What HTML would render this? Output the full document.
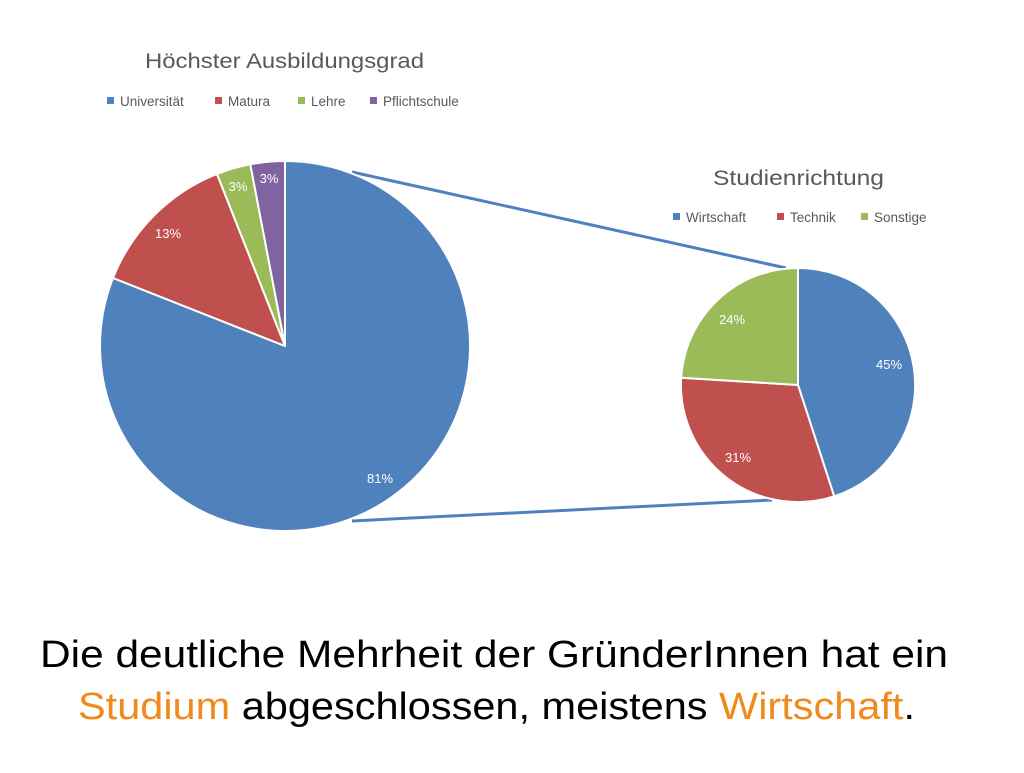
<!DOCTYPE html>
<html><head><meta charset="utf-8"><style>
html,body{margin:0;padding:0;background:#fff;}
body{width:1024px;height:768px;overflow:hidden;}
</style></head><body>
<svg width="1024" height="768" viewBox="0 0 1024 768" xmlns="http://www.w3.org/2000/svg" font-family="Liberation Sans, DejaVu Sans, sans-serif">
<rect width="1024" height="768" fill="#fff"/>
<text x="145" y="68" font-size="21" fill="#595959" textLength="279" lengthAdjust="spacingAndGlyphs">Höchster Ausbildungsgrad</text>
<g font-size="13.5" fill="#595959">
<rect x="107" y="97" width="7" height="7" fill="#4F81BD"/><text x="120" y="106">Universität</text>
<rect x="215" y="97" width="7" height="7" fill="#C0504D"/><text x="228" y="106">Matura</text>
<rect x="298" y="97" width="7" height="7" fill="#9BBB59"/><text x="311" y="106">Lehre</text>
<rect x="370" y="97" width="7" height="7" fill="#8064A2"/><text x="383" y="106">Pflichtschule</text>
</g>
<text x="713" y="185" font-size="21" fill="#595959" textLength="171" lengthAdjust="spacingAndGlyphs">Studienrichtung</text>
<g font-size="13.5" fill="#595959">
<rect x="673" y="213" width="7" height="7" fill="#4F81BD"/><text x="686" y="222">Wirtschaft</text>
<rect x="777" y="213" width="7" height="7" fill="#C0504D"/><text x="790" y="222">Technik</text>
<rect x="861" y="213" width="7" height="7" fill="#9BBB59"/><text x="874" y="222">Sonstige</text>
</g>
<line x1="352" y1="172" x2="786" y2="268" stroke="#4F81BD" stroke-width="3"/>
<line x1="352" y1="521" x2="772" y2="500" stroke="#4F81BD" stroke-width="3"/>
<g stroke="#fff" stroke-width="2" stroke-linejoin="round">
<path d="M285,346 L285,161 A185,185 0 1 1 113,278 Z" fill="#4F81BD"/>
<path d="M285,346 L113,278 A185,185 0 0 1 217,174 Z" fill="#C0504D"/>
<path d="M285,346 L217,174 A185,185 0 0 1 250.3,164.3 Z" fill="#9BBB59"/>
<path d="M285,346 L250.3,164.3 A185,185 0 0 1 285,161 Z" fill="#8064A2"/>
<path d="M798,385 L798,268 A117,117 0 0 1 834.2,496.3 Z" fill="#4F81BD"/>
<path d="M798,385 L834.2,496.3 A117,117 0 0 1 681.2,377.7 Z" fill="#C0504D"/>
<path d="M798,385 L681.2,377.7 A117,117 0 0 1 798,268 Z" fill="#9BBB59"/>
</g>
<g font-size="13" fill="#fff" text-anchor="middle">
<text x="380" y="483">81%</text>
<text x="168" y="238">13%</text>
<text x="238" y="191">3%</text>
<text x="269" y="183">3%</text>
<text x="889" y="369">45%</text>
<text x="738" y="462">31%</text>
<text x="732" y="324">24%</text>
</g>
<g font-size="38" fill="#000">
<text x="40" y="667" textLength="908" lengthAdjust="spacingAndGlyphs">Die deutliche Mehrheit der GründerInnen hat ein</text>
<text x="78" y="719" textLength="837" lengthAdjust="spacingAndGlyphs"><tspan fill="#F08A1C">Studium</tspan> abgeschlossen, meistens <tspan fill="#F08A1C">Wirtschaft</tspan>.</text>
</g>
</svg>
</body></html>
